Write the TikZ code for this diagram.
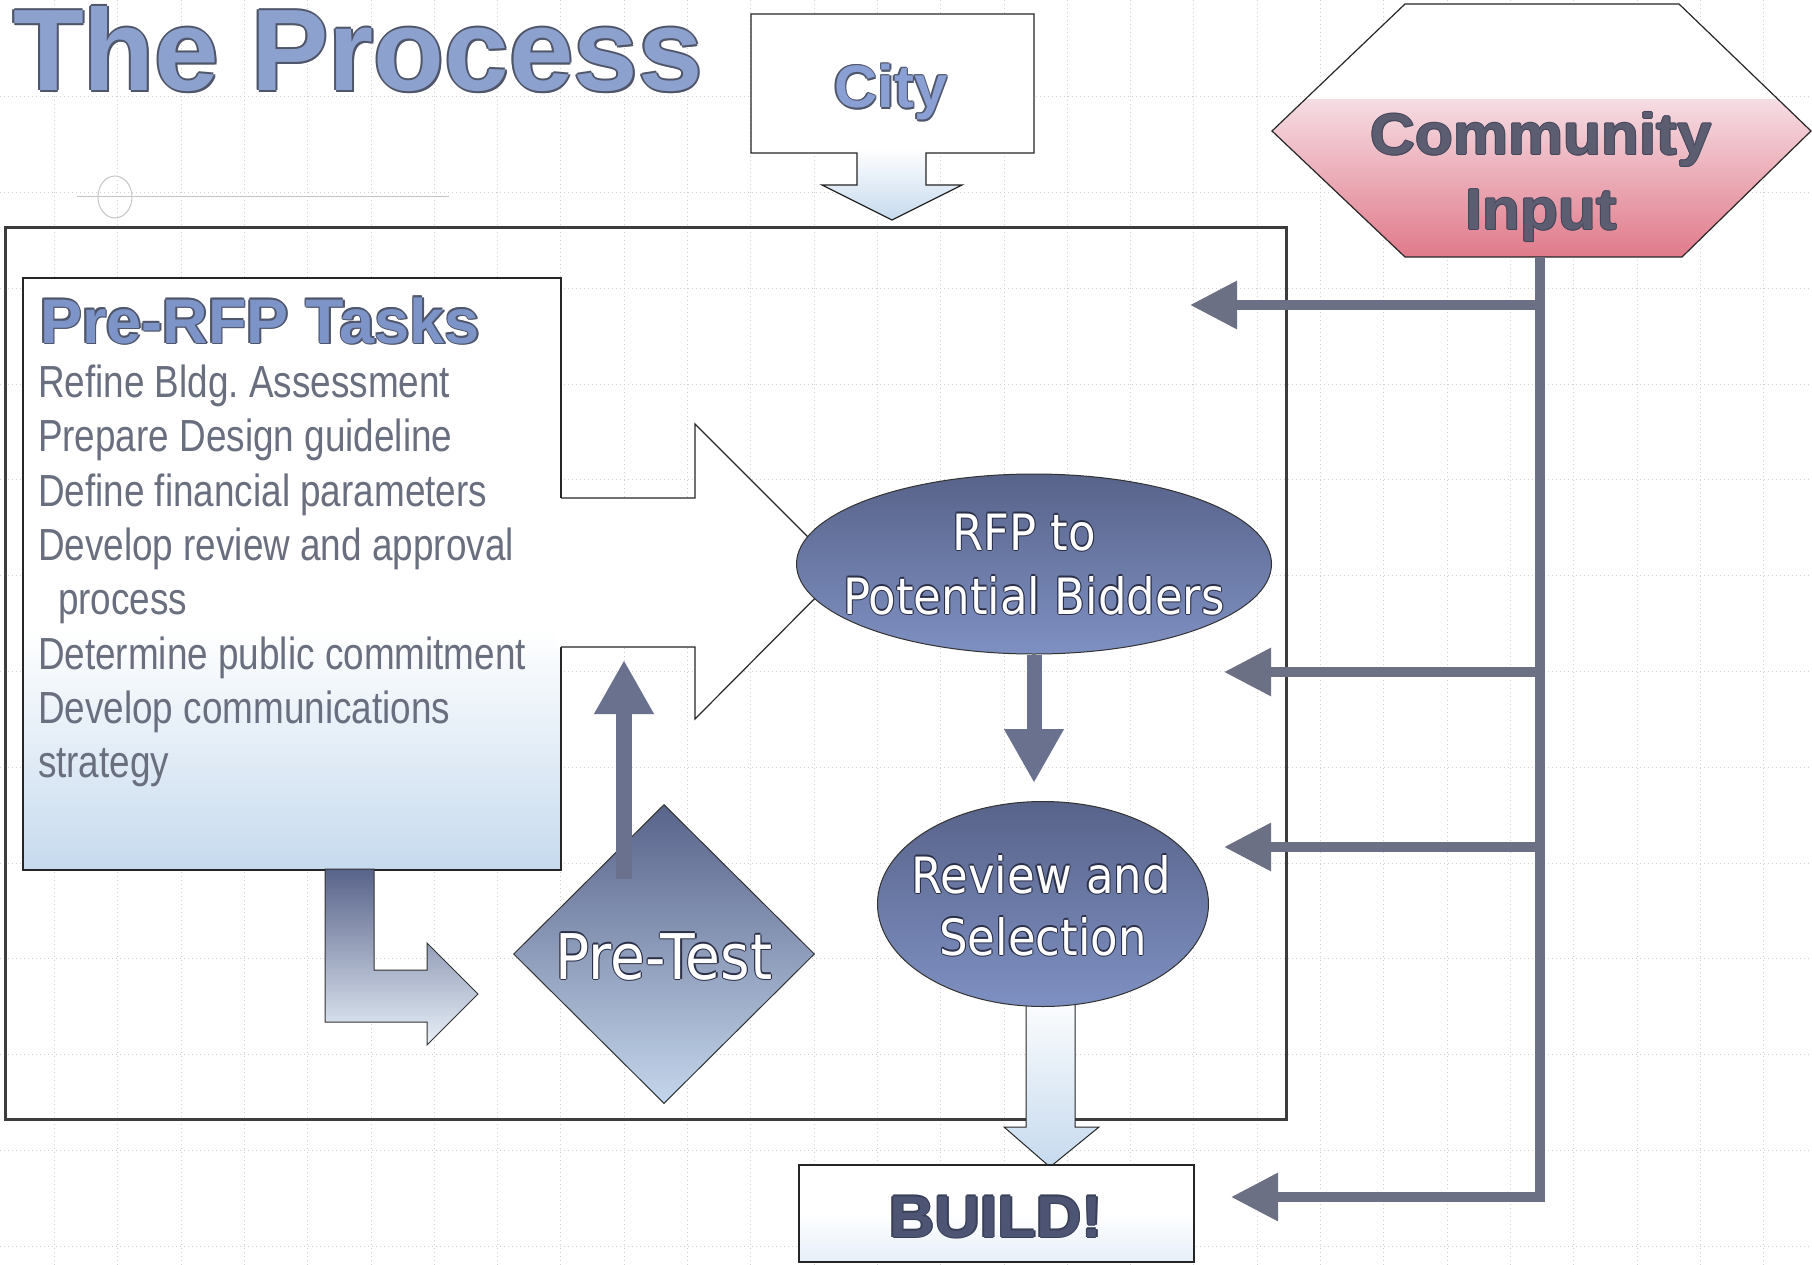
\documentclass[tikz,border=0pt]{standalone}
\usepackage{fontspec}
\usetikzlibrary{shapes.geometric,arrows.meta,calc}
\setmainfont{Liberation Sans}
\newfontfamily\narrowsans[FakeStretch=0.82]{Liberation Sans}
\newfontfamily\widesans[FakeStretch=1.07]{Liberation Sans}
\newfontfamily\roundsans[FakeStretch=0.9]{DejaVu Sans}
\frenchspacing

\definecolor{titleblue}{HTML}{8DA1CE}
\definecolor{cityblue}{HTML}{8AA0D4}
\definecolor{taskblue}{HTML}{7D94C8}
\definecolor{titleedge}{HTML}{50566A}
\definecolor{bodygray}{HTML}{6A6F80}
\definecolor{slatetop}{HTML}{58638A}
\definecolor{slatebottom}{HTML}{7E90C2}
\definecolor{paleblue}{HTML}{C6DAEE}
\definecolor{feedgray}{HTML}{6C7085}
\definecolor{arrowslate}{HTML}{69718F}
\definecolor{pinkdeep}{HTML}{E07A8A}
\definecolor{pinklight}{HTML}{F6DCE3}
\definecolor{gridgray}{HTML}{D0D0D0}
\definecolor{framegray}{HTML}{3C3C3C}
\definecolor{inputtext}{HTML}{5C5D70}
\definecolor{inputedge}{HTML}{45465A}
\definecolor{buildtext}{HTML}{4E5574}
\definecolor{buildedge}{HTML}{3A3F58}
\definecolor{labeledge}{HTML}{2B3048}

% text with a thin coloured rim: #1 rim width, #2 rim colour, #3 fill colour, #4 text
\newlength\olw
\newcommand\olText[4]{{\setlength\olw{#1}\leavevmode
  \rlap{\color{#2}\kern-\olw #4}%
  \rlap{\color{#2}\kern\olw #4}%
  \rlap{\color{#2}\raisebox{\olw}{#4}}%
  \rlap{\color{#2}\raisebox{-\olw}{#4}}%
  \rlap{\color{#2}\kern0.7\olw\raisebox{-0.7\olw}{#4}}%
  \rlap{\color{#2}\kern-0.7\olw\raisebox{0.7\olw}{#4}}%
  \color{#3}#4}}

\begin{document}
\begin{tikzpicture}[x=1pt,y=-1pt,line join=miter,
  gridline/.style={draw=gridgray,line width=0.8pt,dash pattern=on 1pt off 3pt},
  thinedge/.style={draw=black!85,line width=1.2pt},
  plain/.style={inner sep=0pt,outer sep=0pt},
  darrow/.style={draw=arrowslate,line width=16pt,-{Triangle[length=54pt,width=56pt]}},
  feed/.style={draw=feedgray,line width=9.5pt,-{Triangle[length=47pt,width=46pt]}},
  bodyline/.style={plain,anchor=base west,text=bodygray,font=\narrowsans\fontsize{45}{50}\selectfont},
  ovallabel/.style={plain,anchor=base,font=\roundsans\fontsize{50}{54}\selectfont},
]
\useasboundingbox (0,0) rectangle (1812,1265);
\fill[white] (0,0) rectangle (1812,1265);

% dotted graph-paper grid
\foreach \i in {0,...,27} \draw[gridline] ({54.4+63.3*\i},0) -- ({54.4+63.3*\i},1265);
\foreach \j in {0,...,12} \draw[gridline] (0,{96.6+95.8*\j}) -- (1812,{96.6+95.8*\j});

% registration mark
\draw[gray!45,line width=1pt] (77,197) -- (449,197);
\draw[gray!45,line width=1pt] (115,197) ellipse (17pt and 21pt);

% outer frame
\draw[framegray,line width=3pt] (5,228) rectangle (1286,1119);

% title
\node[plain,anchor=base west,font=\fontsize{116}{120}\selectfont\bfseries] (title) at (13,91)
  {\olText{2pt}{titleedge}{titleblue}{The Process}};

% Pre-RFP task box
\node[plain,fill=white,minimum width=538pt,minimum height=592pt,anchor=north west] (prerfp) at (23,278) {};
\shade[top color=white,bottom color=paleblue] (23,630) rectangle (561,870);
\draw[thinedge] (prerfp.north west) rectangle (prerfp.south east);

% block arrow from the task box towards the RFP
\fill[white] (556,498) -- (695,498) -- (695,424) -- (842,571) -- (695,719) -- (695,647) -- (556,647) -- cycle;
\draw[thinedge] (561,498) -- (695,498) -- (695,424) -- (842,571) -- (695,719) -- (695,647) -- (561,647);

\node[plain,anchor=base west,font=\fontsize{63}{66}\selectfont\bfseries] (tasks) at (40,343)
  {\olText{1.6pt}{titleedge}{taskblue}{Pre-RFP Tasks}};
\foreach \t/\yy/\xx [count=\k] in {
  Refine Bldg. Assessment/397/38,
  Prepare Design guideline/451/38,
  Define financial parameters/506/38,
  Develop review and approval/560/38,
  process/614/58,
  Determine public commitment/669/38,
  Develop communications/723/38,
  strategy/777/38}
  \node[bodyline] (task\k) at (\xx,\yy) {\t};

% bent arrow down to the pre-test
\shadedraw[top color=slatetop,middle color=black!10!paleblue,bottom color=white!60!paleblue,draw=black!80,line width=1pt]
  (325,869) -- (325,1022) -- (427,1022) -- (427,1045) -- (478,994) -- (427,943) -- (427,970) -- (374,970) -- (374,869) -- cycle;

% pre-test diamond
\node[diamond,aspect=1,minimum width=301pt,minimum height=299pt,inner sep=0pt,
  draw=black!80,line width=1pt,top color=slatetop,bottom color=white!10!paleblue!90!slatebottom] (pretest) at (664,954) {};
\node[plain,anchor=base,font=\roundsans\fontsize{63}{66}\selectfont] (pretest-text) at (664,979)
  {\olText{1.2pt}{labeledge}{white}{Pre-Test}};
\coordinate (pt-top) at (624,660);
\draw[darrow] ($(pretest.north)+(-40,75)$) -- (pt-top);

% review arrow down to BUILD
\shadedraw[top color=white,middle color=white,bottom color=paleblue,draw=black!85,line width=1pt]
  (1026,990) -- (1026,1127) -- (1004,1127) -- (1050,1167) -- (1099,1127) -- (1075,1127) -- (1075,990);

% RFP ellipse
\node[ellipse,minimum width=475pt,minimum height=180pt,inner sep=0pt,draw=black!80,line width=1pt,
  top color=slatetop,bottom color=slatebottom] (rfp) at (1034,564) {};
\node[ovallabel] (rfp-1) at (1024,550) {\olText{1.1pt}{labeledge}{white}{RFP to}};
\node[ovallabel] (rfp-2) at (1034,614) {\olText{1.1pt}{labeledge}{white}{Potential Bidders}};

% review ellipse
\node[ellipse,minimum width=331pt,minimum height=205pt,inner sep=0pt,draw=black!80,line width=1pt,
  top color=slatetop,bottom color=slatebottom] (review) at (1043,904) {};
\node[ovallabel] (review-1) at (1041,893) {\olText{1.1pt}{labeledge}{white}{Review and}};
\node[ovallabel] (review-2) at (1043,955) {\olText{1.1pt}{labeledge}{white}{Selection}};

\draw[darrow,line width=15pt] (rfp.south) -- ([yshift=18pt]rfp.south |- review.north);

% BUILD box
\node[plain,draw=black!85,line width=1.2pt,fill=white,minimum width=395pt,minimum height=97pt] (build) at (996.5,1213.5) {};
\shade[top color=white,bottom color=white!55!paleblue] (800,1215) rectangle (1193,1261);
\draw[thinedge] (build.north west) rectangle (build.south east);
\node[plain,anchor=base,font=\widesans\fontsize{59}{62}\selectfont\bfseries] (build-text) at (996,1237)
  {\olText{1.4pt}{buildedge}{buildtext}{BUILD!}};

% City callout
\fill[white] (751,14) -- (1034,14) -- (1034,153) -- (926,153) -- (926,185) -- (962,185) -- (892,220)
  -- (822,185) -- (857,185) -- (857,153) -- (751,153) -- cycle;
\shade[top color=white,bottom color=paleblue] (857,148) -- (926,148) -- (926,185) -- (962,185) -- (892,220)
  -- (822,185) -- (857,185) -- cycle;
\draw[thinedge] (751,14) -- (1034,14) -- (1034,153) -- (926,153) -- (926,185) -- (962,185) -- (892,220)
  -- (822,185) -- (857,185) -- (857,153) -- (751,153) -- cycle;
\node[plain,anchor=base,font=\fontsize{60}{64}\selectfont\bfseries] (city) at (891,108)
  {\olText{1.6pt}{titleedge}{cityblue}{City}};

% Community Input hexagon
\fill[white] (1405,4) -- (1679,4) -- (1811,131) -- (1682,257) -- (1405,257) -- (1272,131) -- cycle;
\begin{scope}
  \clip (1405,4) -- (1679,4) -- (1811,131) -- (1682,257) -- (1405,257) -- (1272,131) -- cycle;
  \shade[top color=pinklight,bottom color=pinkdeep] (1272,100) rectangle (1811,257);
\end{scope}
\draw[thinedge] (1405,4) -- (1679,4) -- (1811,131) -- (1682,257) -- (1405,257) -- (1272,131) -- cycle;
\node[plain,anchor=base,font=\widesans\fontsize{58}{60}\selectfont\bfseries] (community) at (1541,155)
  {\olText{1pt}{inputedge}{inputtext}{Community}};
\node[plain,anchor=base,font=\widesans\fontsize{58}{60}\selectfont\bfseries] (community-2) at (1541,230)
  {\olText{1pt}{inputedge}{inputtext}{Input}};

% community feedback lines
\coordinate (ci-foot) at (1540,257);
\coordinate (fb1) at (1190,305);
\coordinate (fb2) at (1224,672);
\coordinate (fb3) at (1224,847);
\draw[feed] (ci-foot) |- ([shift={(37pt,16.5pt)}]build.east);
\draw[feed] (ci-foot |- fb1) -- (fb1);
\draw[feed] (ci-foot |- fb2) -- (fb2);
\draw[feed] (ci-foot |- fb3) -- (fb3);
\end{tikzpicture}
\end{document}
